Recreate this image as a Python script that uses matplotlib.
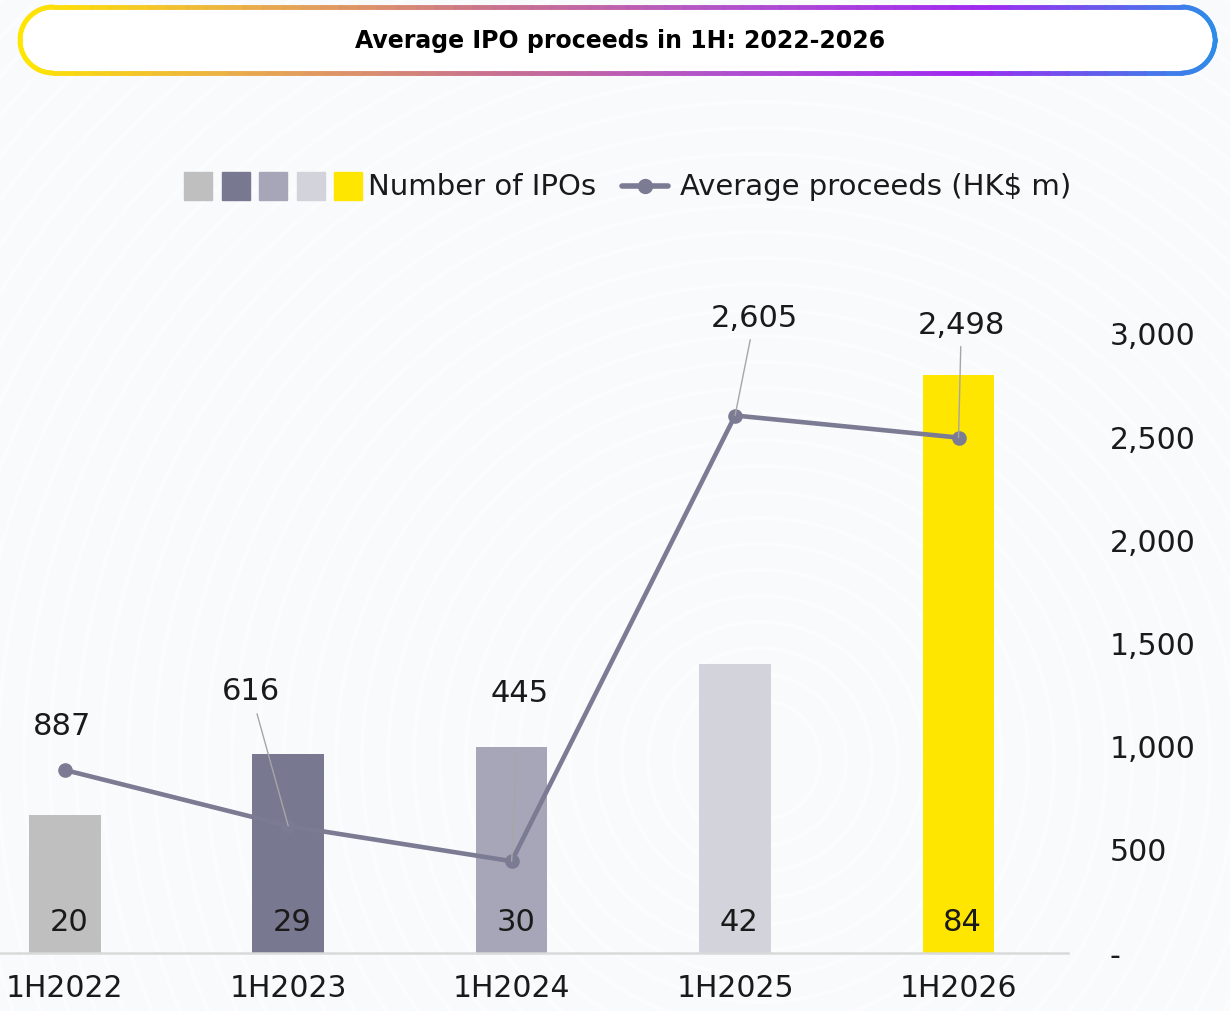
import numpy as np
import matplotlib
matplotlib.use("Agg")
import matplotlib.pyplot as plt
from matplotlib.patches import Rectangle, Circle
from matplotlib.collections import LineCollection
from matplotlib.colors import LinearSegmentedColormap

# dados
periodos = ["1H2022", "1H2023", "1H2024", "1H2025", "1H2026"]
num_ipos = [20, 29, 30, 42, 84]
media_proceeds = [887, 616, 445, 2605, 2498]
ticks_dir = [0, 500, 1000, 1500, 2000, 2500, 3000]

COR_BARRAS = ["#bfbfbf", "#787890", "#a6a6b8", "#d3d3dc", "#ffe600"]
COR_LINHA = "#7b7b93"
COR_FUNDO = "#f9fafc"
COR_TEXTO = "#1a1a1a"

W, H = 1230, 1011
fig = plt.figure(figsize=(W / 100, H / 100), dpi=100, facecolor=COR_FUNDO)

# fundo com arcos suaves e caixa do titulo (coordenadas em pixels)
bg = fig.add_axes([0, 0, 1, 1], zorder=-5)
bg.set_xlim(0, W)
bg.set_ylim(H, 0)
bg.axis("off")
bg.set_facecolor(COR_FUNDO)

for r in np.arange(60, 1300, 26):
    bg.add_patch(Circle((760, 760), r, fill=False, ec="white", lw=3, alpha=0.45))

# caixa do titulo com borda em gradiente
x0, x1, y0, y1, rad = 20, 1215, 7, 73, 33
t = np.linspace(0, 1, 60)
pts = []
pts += [(x0 + rad + (x1 - x0 - 2 * rad) * s, y0) for s in t]
pts += [(x1 - rad + rad * np.cos(a), (y0 + y1) / 2 + rad * np.sin(a)) for a in np.linspace(-np.pi / 2, np.pi / 2, 40)]
pts += [(x1 - rad - (x1 - x0 - 2 * rad) * s, y1) for s in t]
pts += [(x0 + rad + rad * np.cos(a), (y0 + y1) / 2 + rad * np.sin(a)) for a in np.linspace(np.pi / 2, 3 * np.pi / 2, 40)]
pts = np.array(pts)
bg.fill(pts[:, 0], pts[:, 1], color="white", zorder=1)
segs = np.stack([pts[:-1], pts[1:]], axis=1)
grad = LinearSegmentedColormap.from_list(
    "ey", ["#ffe600", "#e8a850", "#c8708f", "#b04fd0", "#a028f0", "#2f8be8"]
)
lc = LineCollection(segs, cmap=grad, lw=3.5, zorder=2, capstyle="round")
lc.set_array((segs[:, 0, 0] - x0) / (x1 - x0))
bg.add_collection(lc)
bg.text(620, 41, "Average IPO proceeds in 1H: 2022-2026", ha="center", va="center",
        fontsize=17, fontweight="bold", color="black", zorder=3)

# legenda manual
for i, c in enumerate(COR_BARRAS):
    bg.add_patch(Rectangle((184 + i * 37.5, 172), 28, 28, color=c, zorder=3))
bg.text(368, 187, "Number of IPOs", ha="left", va="center", fontsize=21, color=COR_TEXTO)
bg.plot([622, 668], [186, 186], color=COR_LINHA, lw=4, solid_capstyle="round", zorder=3)
bg.plot([645], [186], "o", color=COR_LINHA, ms=10, zorder=4)
bg.text(680, 187, "Average proceeds (HK$ m)", ha="left", va="center", fontsize=21, color=COR_TEXTO)

# grafico principal
ax = fig.add_axes([0, 1 - 953 / H, 1068 / W, (953 - 334) / H])
ax.patch.set_alpha(0)
x = np.arange(len(periodos))
ax.bar(x, num_ipos, width=0.32, color=COR_BARRAS, zorder=2)
ax.set_ylim(0, 90)
ax.set_xlim(-0.29, 4.49)
ax.set_yticks([])
ax.set_xticks(x)
ax.set_xticklabels(periodos, fontsize=21.5, color=COR_TEXTO)
ax.tick_params(axis="x", length=0, pad=15)
for s in ["top", "left", "right"]:
    ax.spines[s].set_visible(False)
ax.spines["bottom"].set_color("#d9d9d9")
ax.spines["bottom"].set_linewidth(1.8)

for i, v in enumerate(num_ipos):
    ax.annotate(str(v), (x[i], 0), xytext=(3, 22), textcoords="offset points",
                ha="center", va="center", fontsize=22, color=COR_TEXTO)

ax2 = ax.twinx()
ax2.plot(x, media_proceeds, color=COR_LINHA, lw=3.3, marker="o", ms=9.5, zorder=3)
ax2.set_ylim(0, 3000)
ax2.set_yticks(ticks_dir)
ax2.set_yticklabels(["-"] + [f"{v:,}" for v in ticks_dir[1:]], fontsize=21.5, color=COR_TEXTO)
ax2.tick_params(axis="y", length=0, pad=30)
for s in ["top", "left", "right", "bottom"]:
    ax2.spines[s].set_visible(False)

# rotulos da linha com linhas de chamada (offset em pontos, afastamento do texto)
offsets = [(-2, 31, None), (-27, 97, 4), (6, 121, 32), (14, 70, 3), (2, 81, 3)]
for i, v in enumerate(media_proceeds):
    dx, dy, shr = offsets[i]
    props = None
    if shr is not None:
        props = dict(arrowstyle="-", color="#a6a6a6", lw=1, shrinkA=shr, shrinkB=0)
    ax2.annotate(f"{v:,}", (x[i], v), xytext=(dx, dy), textcoords="offset points",
                 ha="center", va="center", fontsize=22, color=COR_TEXTO,
                 arrowprops=props, annotation_clip=False)

fig.savefig("out.png", dpi=100, facecolor=COR_FUNDO)
